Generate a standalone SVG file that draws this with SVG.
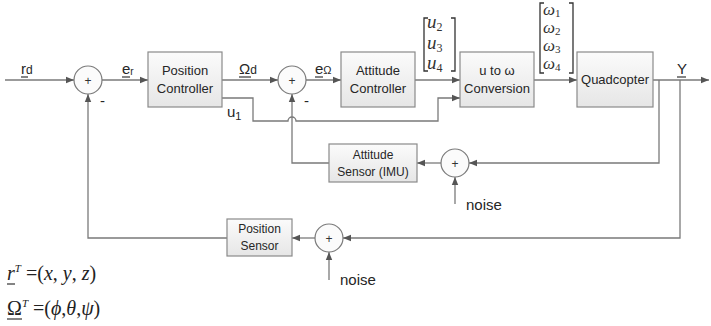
<svg xmlns="http://www.w3.org/2000/svg" width="711" height="326" viewBox="0 0 711 326">
<defs>
<linearGradient id="bg" x1="0" y1="0" x2="0" y2="1">
<stop offset="0" stop-color="#fbfbfb"/>
<stop offset="1" stop-color="#e6e6e6"/>
</linearGradient>
<marker id="ar" viewBox="0 0 8 8" refX="8" refY="4" markerWidth="8" markerHeight="8" markerUnits="userSpaceOnUse" orient="auto">
<path d="M0,0.8 L8,4 L0,7.2 Z" fill="#555"/>
</marker>
<style>
.box{fill:url(#bg);stroke:#8a8a8a;stroke-width:1.2}
.sum{fill:#fbfbfb;stroke:#7a7a7a;stroke-width:1.2}
.ln{fill:none;stroke:#7a7a7a;stroke-width:1.3;marker-end:url(#ar)}
.ul{stroke:#333;stroke-width:1.2}
.br{fill:none;stroke:#333;stroke-width:1.3}
.t{font-family:"Liberation Sans",Arial,sans-serif;fill:#262626;font-size:13px;text-anchor:middle}
.ts{font-family:"Liberation Sans",Arial,sans-serif;fill:#262626;font-size:12px;text-anchor:middle}
.lb{font-family:"Liberation Sans",Arial,sans-serif;fill:#262626;font-size:15px}
.pm{font-family:"Liberation Sans",Arial,sans-serif;fill:#333;font-size:12px;text-anchor:middle}
.m{font-family:"Liberation Serif","Times New Roman",serif;font-style:italic;fill:#333;font-size:19px}
.w{font-family:"Liberation Serif","Times New Roman",serif;font-style:italic;fill:#333;font-size:17px}
.f{font-family:"Liberation Serif","Times New Roman",serif;fill:#222;font-size:20px}
</style>
</defs>

<g id="connectors">
<path class="ln" d="M5,80 H74"/>
<path class="ln" d="M102,80 H148"/>
<path class="ln" d="M222,80 H278"/>
<path class="ln" d="M306,80 H341"/>
<path class="ln" d="M415,80 H460"/>
<path class="ln" d="M222,98 H253 V121 H288 A4,4 0 0 1 296,121 H438 V98 H460"/>
<path class="ln" d="M534,80 H577"/>
<path class="ln" d="M653,80 H709"/>
<path class="ln" d="M659,80 V163 H469"/>
<path class="ln" d="M680,80 V238 H343"/>
<path class="ln" d="M441,163 H417"/>
<path class="ln" d="M329,163 H292 V94"/>
<path class="ln" d="M315,238 H292"/>
<path class="ln" d="M227,238 H88 V94"/>
<path class="ln" d="M455,204 V177"/>
<path class="ln" d="M329,280 V252"/>
</g>

<g id="sum1"><circle class="sum" cx="88" cy="80" r="14"/><text class="pm" x="88" y="84.5">+</text><text class="lb" x="100" y="106">-</text></g>
<g id="sum2"><circle class="sum" cx="292" cy="80" r="14"/><text class="pm" x="292" y="84.5">+</text><text class="lb" x="304" y="106">-</text></g>
<g id="sum3"><circle class="sum" cx="455" cy="163" r="14"/><text class="pm" x="455" y="167.5">+</text></g>
<g id="sum4"><circle class="sum" cx="329" cy="238" r="14"/><text class="pm" x="329" y="242.5">+</text></g>

<g id="position-controller"><rect class="box" x="148" y="52" width="74" height="55"/><text class="t" x="185" y="75">Position</text><text class="t" x="185" y="93">Controller</text></g>
<g id="attitude-controller"><rect class="box" x="341" y="52" width="74" height="55"/><text class="t" x="378" y="75">Attitude</text><text class="t" x="378" y="93">Controller</text></g>
<g id="u-to-omega"><rect class="box" x="460" y="52" width="74" height="55"/><text class="t" x="497" y="75">u to ω</text><text class="t" x="497" y="93">Conversion</text></g>
<g id="quadcopter"><rect class="box" x="577" y="52" width="76" height="55"/><text class="t" x="615" y="84">Quadcopter</text></g>
<g id="attitude-sensor"><rect class="box" x="329" y="144" width="88" height="38"/><text class="ts" x="373" y="159">Attitude</text><text class="ts" x="373" y="176">Sensor (IMU)</text></g>
<g id="position-sensor"><rect class="box" x="227" y="219" width="65" height="37"/><text class="ts" x="259.5" y="233">Position</text><text class="ts" x="259.5" y="250">Sensor</text></g>

<g id="labels">
<text class="lb" x="21" y="74">r<tspan font-size="12">d</tspan></text><line class="ul" x1="21" y1="77" x2="28" y2="77"/>
<text class="lb" x="122" y="74">e<tspan font-size="10" dy="1">r</tspan></text><line class="ul" x1="122" y1="77" x2="130" y2="77"/>
<text class="lb" x="239" y="74">Ω<tspan font-size="12">d</tspan></text><line class="ul" x1="239" y1="77" x2="251" y2="77"/>
<text class="lb" x="315" y="74">e<tspan font-size="11">Ω</tspan></text><line class="ul" x1="315" y1="77" x2="323" y2="77"/>
<text class="lb" x="677" y="74">Y</text><line class="ul" x1="677" y1="77" x2="686" y2="77"/>
<text class="lb" x="227" y="117">u<tspan font-size="11" dy="3">1</tspan></text>
<text class="lb" x="466" y="210">noise</text>
<text class="lb" x="340" y="285">noise</text>
</g>

<g id="u-vector">
<path class="br" d="M428,18 H424 V71 H428"/>
<path class="br" d="M451,18 H455 V71 H451"/>
<text class="m" x="427" y="28">u<tspan font-size="12" dy="3" font-style="normal">2</tspan></text>
<text class="m" x="427" y="49">u<tspan font-size="12" dy="3" font-style="normal">3</tspan></text>
<text class="m" x="427" y="69">u<tspan font-size="12" dy="3" font-style="normal">4</tspan></text>
</g>

<g id="omega-vector">
<path class="br" d="M544,3 H540 V73 H544"/>
<path class="br" d="M569,3 H573 V73 H569"/>
<text class="w" x="543" y="15">ω<tspan font-size="11" dy="2" font-style="normal">1</tspan></text>
<text class="w" x="543" y="33">ω<tspan font-size="11" dy="2" font-style="normal">2</tspan></text>
<text class="w" x="543" y="51">ω<tspan font-size="11" dy="2" font-style="normal">3</tspan></text>
<text class="w" x="543" y="69">ω<tspan font-size="11" dy="2" font-style="normal">4</tspan></text>
</g>

<g id="definitions">
<text class="f" x="7" y="280"><tspan font-style="italic">r</tspan><tspan font-size="11" font-style="italic" dy="-8">T</tspan><tspan dy="8"> =(</tspan><tspan font-style="italic">x</tspan>, <tspan font-style="italic">y</tspan>, <tspan font-style="italic">z</tspan>)</text>
<line class="ul" x1="7" y1="284" x2="15" y2="284"/>
<text class="f" x="7" y="315">Ω<tspan font-size="11" font-style="italic" dy="-8">T</tspan><tspan dy="8"> =(</tspan><tspan font-style="italic">ϕ</tspan>,<tspan font-style="italic">θ</tspan>,<tspan font-style="italic">ψ</tspan>)</text>
<line class="ul" x1="7" y1="319" x2="22" y2="319"/>
</g>
</svg>
